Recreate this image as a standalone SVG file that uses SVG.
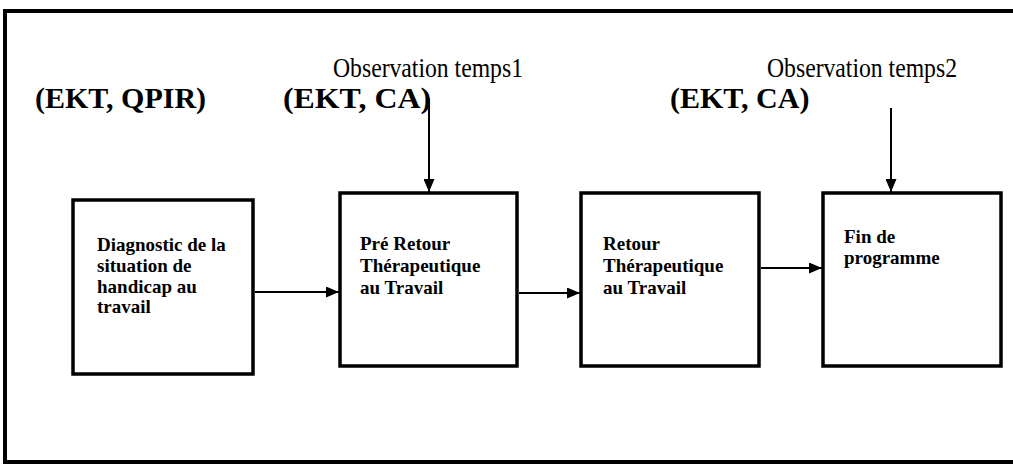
<svg xmlns="http://www.w3.org/2000/svg" width="1013" height="465" viewBox="0 0 1013 465">
  <style>
    .frame { fill: none; stroke: #000; stroke-width: 4; }
    .box { fill: #fff; stroke: #000; stroke-width: 3.5; }
    .edge { stroke: #000; stroke-width: 2; fill: none; }
    .obs { font-family: "Liberation Serif", "Times New Roman", serif; font-size: 27px; fill: #000; }
    .tool { font-family: "Liberation Serif", "Times New Roman", serif; font-size: 30px; font-weight: bold; fill: #000; }
    .lbl { font-family: "Liberation Serif", "Times New Roman", serif; font-size: 19px; font-weight: bold; fill: #000; }
  </style>
  <defs>
    <marker id="arrow" viewBox="0 0 13 11" refX="13" refY="5.5" markerWidth="13" markerHeight="11" markerUnits="userSpaceOnUse" orient="auto">
      <path d="M0,0 L13,5.5 L0,11 Z" fill="#000"/>
    </marker>
  </defs>

  <rect width="1013" height="465" fill="#fff"/>
  <!-- outer frame, open on the right -->
  <rect class="frame" x="5" y="11" width="1020" height="451"/>

  <!-- measurement labels -->
  <g id="labels">
    <text class="obs" x="333" y="77" textLength="190" lengthAdjust="spacingAndGlyphs">Observation temps1</text>
    <text class="obs" x="767" y="77" textLength="190" lengthAdjust="spacingAndGlyphs">Observation temps2</text>
    <text class="tool" x="35" y="108">(EKT, QPIR)</text>
    <text class="tool" x="283" y="108" textLength="148" lengthAdjust="spacingAndGlyphs">(EKT, CA)</text>
    <text class="tool" x="670" y="108">(EKT, CA)</text>
  </g>

  <g id="connectors">
    <line class="edge" x1="429" y1="98" x2="429" y2="192" marker-end="url(#arrow)"/>
    <line class="edge" x1="891" y1="108" x2="891" y2="192" marker-end="url(#arrow)"/>
    <line class="edge" x1="255" y1="292" x2="339" y2="292" marker-end="url(#arrow)"/>
    <line class="edge" x1="519" y1="293" x2="580" y2="293" marker-end="url(#arrow)"/>
    <line class="edge" x1="761" y1="268" x2="822" y2="268" marker-end="url(#arrow)"/>
  </g>

  <g id="diagnostic">
    <rect class="box" x="73" y="200" width="180" height="174"/>
    <text class="lbl" x="97" y="251">Diagnostic de la</text>
    <text class="lbl" x="97" y="272">situation de</text>
    <text class="lbl" x="97" y="293">handicap au</text>
    <text class="lbl" x="97" y="313">travail</text>
  </g>

  <g id="pre-retour">
    <rect class="box" x="340" y="193" width="177" height="173"/>
    <text class="lbl" x="360" y="250">Pré Retour</text>
    <text class="lbl" x="360" y="272">Thérapeutique</text>
    <text class="lbl" x="360" y="294">au Travail</text>
  </g>

  <g id="retour">
    <rect class="box" x="581" y="193" width="178" height="173"/>
    <text class="lbl" x="603" y="250">Retour</text>
    <text class="lbl" x="603" y="272">Thérapeutique</text>
    <text class="lbl" x="603" y="294">au Travail</text>
  </g>

  <g id="fin">
    <rect class="box" x="823" y="193" width="178" height="173"/>
    <text class="lbl" x="844" y="243">Fin de</text>
    <text class="lbl" x="844" y="264">programme</text>
  </g>
</svg>
